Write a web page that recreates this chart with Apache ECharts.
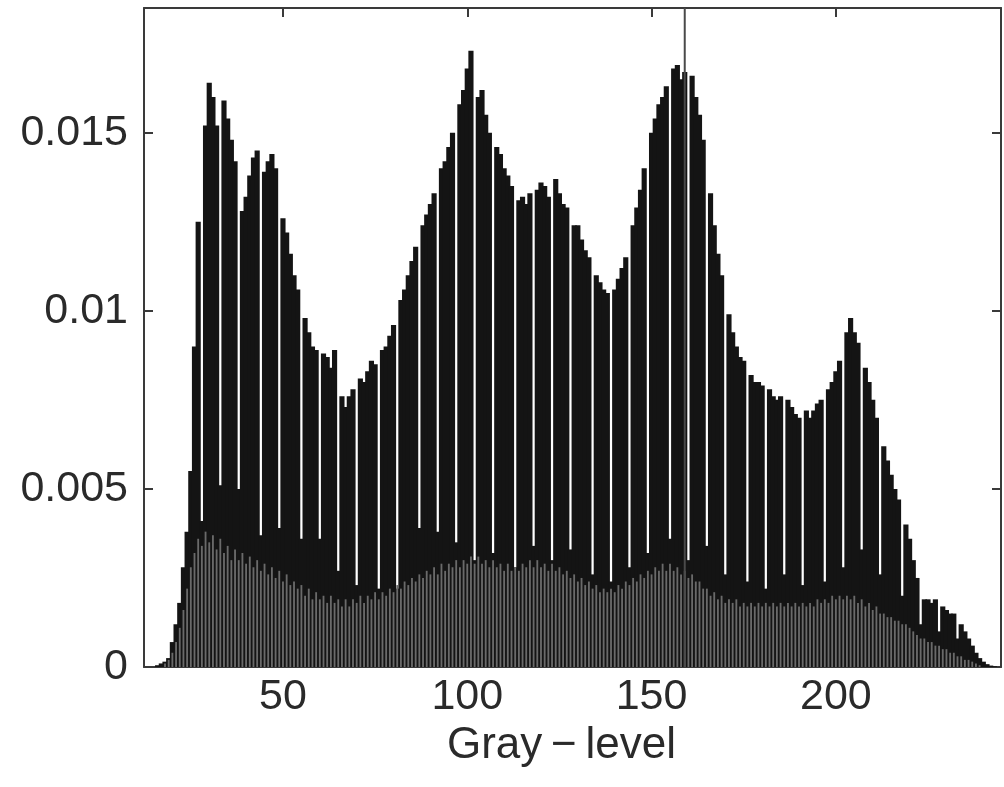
<!DOCTYPE html>
<html>
<head>
<meta charset="utf-8">
<script src="https://cdn.jsdelivr.net/npm/echarts@6/dist/echarts.min.js"></script>
<style>
html,body{margin:0;padding:0;background:#fff;}
#chart{width:1004px;height:787px;}
</style>
</head>
<body>
<div id="chart"></div>
<script>
// ---- data ----
const grayStart = 12; // first gray level in the arrays below
// main (black) histogram, one value per gray level 12..245
const hist = [
  0,0,0,0,0.05e-3,0.1e-3,0.15e-3,0.25e-3,0.7e-3,1.2e-3,             // 12-21
  1.8e-3,2.8e-3,3.8e-3,5.5e-3,9.0e-3,12.5e-3,4.1e-3,15.2e-3,16.4e-3,16.0e-3, // 22-31
  15.2e-3,5.1e-3,15.9e-3,15.4e-3,14.8e-3,14.2e-3,5.0e-3,12.8e-3,13.2e-3,13.8e-3, // 32-41
  14.3e-3,14.5e-3,3.7e-3,13.9e-3,14.2e-3,14.4e-3,14.0e-3,3.9e-3,12.6e-3,12.2e-3, // 42-51
  11.6e-3,11.0e-3,10.6e-3,3.6e-3,9.8e-3,9.4e-3,9.0e-3,8.9e-3,3.6e-3,8.8e-3,     // 52-61
  8.7e-3,8.4e-3,8.9e-3,2.7e-3,7.6e-3,7.3e-3,7.6e-3,7.8e-3,2.3e-3,8.1e-3,        // 62-71
  8.0e-3,8.3e-3,8.6e-3,8.5e-3,2.2e-3,8.9e-3,9.0e-3,9.3e-3,9.6e-3,2.2e-3,        // 72-81
  10.3e-3,10.6e-3,11.0e-3,11.4e-3,11.8e-3,3.9e-3,12.4e-3,12.7e-3,13.0e-3,13.3e-3, // 82-91
  3.8e-3,14.0e-3,14.2e-3,14.6e-3,15.0e-3,3.5e-3,15.8e-3,16.2e-3,16.8e-3,17.3e-3, // 92-101
  3.0e-3,16.0e-3,16.2e-3,15.5e-3,15.0e-3,3.2e-3,14.6e-3,14.4e-3,14.0e-3,13.8e-3, // 102-111
  13.5e-3,2.8e-3,13.1e-3,13.2e-3,13.0e-3,13.3e-3,3.4e-3,13.4e-3,13.6e-3,13.5e-3, // 112-121
  13.2e-3,3.0e-3,13.7e-3,13.3e-3,13.0e-3,12.9e-3,3.3e-3,12.4e-3,12.4e-3,12.0e-3, // 122-131
  11.7e-3,11.5e-3,2.6e-3,11.0e-3,10.8e-3,10.6e-3,10.5e-3,2.4e-3,10.6e-3,10.9e-3, // 132-141
  11.2e-3,11.5e-3,2.8e-3,12.4e-3,12.9e-3,13.4e-3,14.0e-3,3.2e-3,15.0e-3,15.4e-3, // 142-151
  15.8e-3,16.0e-3,16.3e-3,3.6e-3,16.8e-3,16.9e-3,16.5e-3,16.7e-3,3.0e-3,16.6e-3, // 152-161
  16.0e-3,15.5e-3,14.8e-3,3.4e-3,13.3e-3,12.4e-3,11.6e-3,11.0e-3,2.6e-3,9.9e-3,  // 162-171
  9.4e-3,9.0e-3,8.7e-3,8.6e-3,2.4e-3,8.2e-3,8.0e-3,8.0e-3,7.9e-3,2.2e-3,         // 172-181
  7.8e-3,7.6e-3,7.5e-3,7.6e-3,2.6e-3,7.5e-3,7.3e-3,7.1e-3,7.0e-3,2.3e-3,         // 182-191
  7.2e-3,7.0e-3,7.2e-3,7.4e-3,7.5e-3,2.4e-3,7.8e-3,8.0e-3,8.3e-3,8.6e-3,         // 192-201
  2.8e-3,9.4e-3,9.8e-3,9.4e-3,9.1e-3,3.3e-3,8.4e-3,8.0e-3,7.5e-3,7.0e-3,         // 202-211
  2.6e-3,6.2e-3,5.8e-3,5.4e-3,5.0e-3,4.7e-3,2.0e-3,4.0e-3,3.6e-3,3.0e-3,         // 212-221
  2.5e-3,1.2e-3,1.9e-3,1.9e-3,1.8e-3,1.9e-3,1.0e-3,1.7e-3,1.6e-3,1.5e-3,         // 222-231
  1.5e-3,0.8e-3,1.2e-3,1.0e-3,0.8e-3,0.6e-3,0.4e-3,0.25e-3,0.15e-3,0.08e-3,      // 232-241
  0.04e-3,0.02e-3,0,0                                                           // 242-245
];
// lighter grey low band overlaid at the bottom, gray levels 12..245
const lowBand = [
  0,0,0,0,0,0,0.1e-3,0.2e-3,0.4e-3,0.7e-3,                                      // 12-21
  1.1e-3,1.6e-3,2.2e-3,2.8e-3,3.2e-3,3.6e-3,3.4e-3,3.8e-3,3.5e-3,3.7e-3,        // 22-31
  3.3e-3,3.6e-3,3.2e-3,3.4e-3,3.0e-3,3.3e-3,3.0e-3,3.2e-3,2.9e-3,3.1e-3,        // 32-41
  2.8e-3,3.0e-3,2.7e-3,2.9e-3,2.6e-3,2.8e-3,2.5e-3,2.7e-3,2.4e-3,2.6e-3,        // 42-51
  2.3e-3,2.4e-3,2.2e-3,2.3e-3,2.0e-3,2.2e-3,1.9e-3,2.1e-3,1.9e-3,2.0e-3,        // 52-61
  1.8e-3,2.0e-3,1.8e-3,1.9e-3,1.7e-3,1.9e-3,1.7e-3,1.9e-3,1.8e-3,2.0e-3,        // 62-71
  1.8e-3,2.0e-3,1.9e-3,2.1e-3,1.9e-3,2.1e-3,2.0e-3,2.2e-3,2.1e-3,2.3e-3,        // 72-81
  2.2e-3,2.4e-3,2.3e-3,2.5e-3,2.4e-3,2.6e-3,2.5e-3,2.7e-3,2.6e-3,2.8e-3,        // 82-91
  2.6e-3,2.9e-3,2.7e-3,2.9e-3,2.8e-3,3.0e-3,2.8e-3,3.0e-3,2.9e-3,3.1e-3,        // 92-101
  2.9e-3,3.1e-3,2.9e-3,3.0e-3,2.8e-3,3.0e-3,2.8e-3,2.9e-3,2.7e-3,2.9e-3,        // 102-111
  2.7e-3,2.8e-3,2.7e-3,2.9e-3,2.8e-3,3.0e-3,2.8e-3,3.0e-3,2.8e-3,2.9e-3,        // 112-121
  2.7e-3,2.9e-3,2.7e-3,2.8e-3,2.6e-3,2.7e-3,2.5e-3,2.6e-3,2.4e-3,2.5e-3,        // 122-131
  2.3e-3,2.4e-3,2.2e-3,2.3e-3,2.1e-3,2.2e-3,2.1e-3,2.2e-3,2.1e-3,2.3e-3,        // 132-141
  2.2e-3,2.4e-3,2.3e-3,2.5e-3,2.4e-3,2.6e-3,2.5e-3,2.7e-3,2.6e-3,2.8e-3,        // 142-151
  2.7e-3,2.9e-3,2.7e-3,2.9e-3,2.7e-3,2.8e-3,2.6e-3,2.7e-3,2.5e-3,2.6e-3,        // 152-161
  2.4e-3,2.4e-3,2.2e-3,2.2e-3,2.0e-3,2.1e-3,1.9e-3,2.0e-3,1.8e-3,1.9e-3,        // 162-171
  1.8e-3,1.9e-3,1.7e-3,1.8e-3,1.7e-3,1.8e-3,1.7e-3,1.8e-3,1.7e-3,1.8e-3,        // 172-181
  1.7e-3,1.8e-3,1.7e-3,1.8e-3,1.7e-3,1.8e-3,1.7e-3,1.8e-3,1.7e-3,1.8e-3,        // 182-191
  1.7e-3,1.8e-3,1.7e-3,1.9e-3,1.8e-3,1.9e-3,1.8e-3,2.0e-3,1.9e-3,2.0e-3,        // 192-201
  1.9e-3,2.0e-3,1.9e-3,2.0e-3,1.8e-3,1.9e-3,1.7e-3,1.8e-3,1.6e-3,1.7e-3,        // 202-211
  1.5e-3,1.5e-3,1.4e-3,1.4e-3,1.3e-3,1.3e-3,1.2e-3,1.2e-3,1.1e-3,1.0e-3,        // 212-221
  0.9e-3,0.8e-3,0.8e-3,0.7e-3,0.7e-3,0.6e-3,0.6e-3,0.5e-3,0.5e-3,0.4e-3,        // 222-231
  0.4e-3,0.3e-3,0.3e-3,0.2e-3,0.2e-3,0.15e-3,0.1e-3,0.05e-3,0,0,                // 232-241
  0,0,0,0                                                                       // 242-245
];
// single tall spike (clipped at top of axes)
const spikeLevels = [159];
const spikeValues = [0.020];
const xTicks = [50, 100, 150, 200];
const yTicks = [0, 0.005, 0.01, 0.015];
const xRange = [12.3, 244.8];
const yRange = [0, 0.0185];

// ---- chart ----
const gridBox = {left: 144, right: 3, top: 8, bottom: 120};
const plotW = 1004 - gridBox.left - gridBox.right;
const unitPx = plotW / (xRange[1] - xRange[0]);

const pairs = (vals) => vals.map((v, i) => [grayStart + i, v]);
const FONT = 'Liberation Sans, Arial, Helvetica, sans-serif';
const frameColor = '#3a3a3a';
const textColor = '#2a2a2a';

const frameAxis = (extra) => Object.assign({
  axisLine: {show: true, onZero: false, lineStyle: {color: frameColor, width: 2}},
  splitLine: {show: false}
}, extra);

const chart = echarts.init(document.getElementById('chart'), null, {renderer: 'canvas'});
chart.setOption({
  animation: false,
  backgroundColor: '#ffffff',
  grid: gridBox,
  xAxis: [
    frameAxis({
      type: 'value', position: 'bottom', min: xRange[0], max: xRange[1],
      axisTick: {show: true, inside: true, length: 9, customValues: xTicks, lineStyle: {color: frameColor, width: 2}},
      axisLabel: {show: true, customValues: xTicks, fontSize: 43, color: textColor, fontFamily: FONT, margin: 9},
      name: 'Gray\u2009\u2212\u2009level', nameLocation: 'middle', nameGap: 52,
      nameTextStyle: {fontSize: 44, color: textColor, fontFamily: FONT, padding: [0, 22, 0, 0]}
    }),
    frameAxis({
      type: 'value', position: 'top', min: xRange[0], max: xRange[1],
      axisTick: {show: true, inside: true, length: 9, customValues: xTicks, lineStyle: {color: frameColor, width: 2}},
      axisLabel: {show: false}
    }),
    {type: 'value', show: false, min: xRange[0], max: xRange[1], splitLine: {show: false}}
  ],
  yAxis: [
    frameAxis({
      type: 'value', position: 'left', min: yRange[0], max: yRange[1],
      axisTick: {show: true, inside: true, length: 9, customValues: yTicks, lineStyle: {color: frameColor, width: 2}},
      axisLabel: {show: true, customValues: yTicks, fontSize: 43, color: textColor, fontFamily: FONT, margin: 16}
    }),
    frameAxis({
      type: 'value', position: 'right', min: yRange[0], max: yRange[1],
      axisTick: {show: true, inside: true, length: 9, customValues: yTicks, lineStyle: {color: frameColor, width: 2}},
      axisLabel: {show: false}
    })
  ],
  series: [
    {
      type: 'bar', name: 'hist', xAxisIndex: 0, yAxisIndex: 0,
      data: pairs(hist), barWidth: unitPx * 1.4, clip: true,
      itemStyle: {color: '#141414'}, z: 2
    },
    {
      type: 'bar', name: 'low', xAxisIndex: 1, yAxisIndex: 0,
      data: pairs(lowBand), barWidth: unitPx * 0.5, clip: true,
      itemStyle: {color: '#6a6a6a'}, z: 3
    },
    {
      type: 'bar', name: 'spike', xAxisIndex: 2, yAxisIndex: 0,
      data: spikeLevels.map((g, i) => [g, spikeValues[i]]), barWidth: 2, clip: true,
      itemStyle: {color: '#4a4a4a'}, z: 4
    }
  ]
});
</script>
</body>
</html>
